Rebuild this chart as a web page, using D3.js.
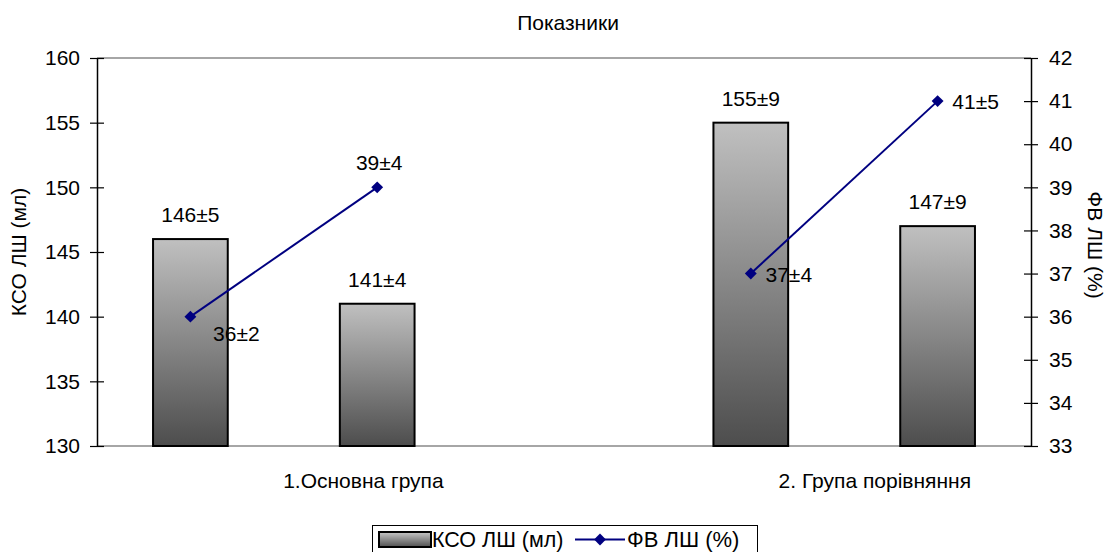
<!DOCTYPE html>
<html><head><meta charset="utf-8">
<script src="https://cdn.jsdelivr.net/npm/d3@7"></script>
<style>body{margin:0;background:#fff}svg{display:block;font-family:"Liberation Sans",Arial,sans-serif}</style>
</head><body><svg id="c" width="1107" height="552"></svg>
<script>
// ---- data ----
const slots = ["g1a","g1b","gap","g2a","g2b"];
const categories = ["1.Основна група","2. Група порівняння"];
const barSlots = ["g1a","g1b","g2a","g2b"];
const ksoValues = [146,141,155,147];
const ksoLabels = ["146±5","141±4","155±9","147±9"];
const fvValues = [36,39,37,41];
const fvLabels = ["36±2","39±4","37±4","41±5"];
const fvSegments = [[0,1],[2,3]];
const leftTicks = [130,135,140,145,150,155,160];
const rightTicks = [33,34,35,36,37,38,39,40,41,42];
const title = "Показники";
const leftTitle = "КСО ЛШ (мл)";
const rightTitle = "ФВ ЛШ (%)";
const legendNames = ["КСО ЛШ (мл)","ФВ ЛШ (%)"];

const FS = 21;
const svg = d3.select("#c");
const L = 97, R = 1031, T = 58, B = 446;
const x = d3.scaleBand().domain(slots).range([L,R]).paddingInner(0.6).paddingOuter(0.3);
const yL = d3.scaleLinear().domain([130,160]).range([B,T]);
const yR = d3.scaleLinear().domain([33,42]).range([B,T]);

const defs = svg.append("defs");
const g = defs.append("linearGradient").attr("id","bg").attr("x1",0).attr("y1",0).attr("x2",0).attr("y2",1);
g.append("stop").attr("offset","0%").attr("stop-color","#c0c0c0");
g.append("stop").attr("offset","100%").attr("stop-color","#4d4d4d");
const gl = defs.append("linearGradient").attr("id","lg").attr("x1",0).attr("y1",0).attr("x2",0).attr("y2",1);
gl.append("stop").attr("offset","0%").attr("stop-color","#c8c8c8");
gl.append("stop").attr("offset","100%").attr("stop-color","#505050");

svg.append("line").attr("x1",L).attr("x2",R).attr("y1",T).attr("y2",T).attr("stroke","#888").attr("stroke-width",1.5);
svg.append("line").attr("x1",L).attr("x2",R).attr("y1",B).attr("y2",B).attr("stroke","#888").attr("stroke-width",1.5);

svg.selectAll("rect.bar").data(ksoValues).join("rect").attr("class","bar")
  .attr("x",(d,i)=>x(barSlots[i])).attr("width",x.bandwidth())
  .attr("y",d=>yL(d)).attr("height",d=>B-yL(d))
  .attr("fill","url(#bg)").attr("stroke","#000").attr("stroke-width",2);

svg.selectAll("text.bl").data(ksoLabels).join("text").attr("class","bl")
  .attr("x",(d,i)=>x(barSlots[i])+x.bandwidth()/2).attr("y",(d,i)=>yL(ksoValues[i])-17)
  .attr("text-anchor","middle").attr("font-size",FS).text(d=>d);

const axL = svg.append("g").attr("transform",`translate(${L},0)`)
  .call(d3.axisLeft(yL).tickValues(leftTicks).tickSize(7).tickSizeOuter(0).tickPadding(10));
axL.selectAll(".tick line").attr("x2",7).attr("x1",-7);
const axR = svg.append("g").attr("transform",`translate(${R},0)`)
  .call(d3.axisRight(yR).tickValues(rightTicks).tickSize(7).tickSizeOuter(0).tickPadding(11));
axR.selectAll(".tick line").attr("x1",-7).attr("x2",7);
[axL,axR].forEach(a=>{
  a.select(".domain").attr("stroke","#000").attr("stroke-width",1.5);
  a.selectAll(".tick line").attr("stroke","#000").attr("stroke-width",1.2);
  a.selectAll(".tick text").attr("font-size",FS).attr("fill","#000").attr("font-family","Liberation Sans, Arial, sans-serif");
});

const cx = i => x(barSlots[i]) + x.bandwidth()/2;
const lineGen = d3.line().x(i=>cx(i)).y(i=>yR(fvValues[i]));
svg.selectAll("path.seg").data(fvSegments).join("path").attr("class","seg")
  .attr("d",lineGen).attr("fill","none").attr("stroke","#000080").attr("stroke-width",2);
const diamond = d3.symbol().type(d3.symbolDiamond2).size(90);
svg.selectAll("path.mk").data(fvValues).join("path").attr("class","mk")
  .attr("d",diamond).attr("transform",(d,i)=>`translate(${cx(i)},${yR(d)})`)
  .attr("fill","#000080");
const fvOff = [[46,24],[2,-17],[38,8],[38,8]];
svg.selectAll("text.fl").data(fvLabels).join("text").attr("class","fl")
  .attr("x",(d,i)=>cx(i)+fvOff[i][0]).attr("y",(d,i)=>yR(fvValues[i])+fvOff[i][1])
  .attr("text-anchor","middle").attr("font-size",FS).text(d=>d);

svg.append("text").attr("x",568).attr("y",30).attr("text-anchor","middle").attr("font-size",FS).text(title);
svg.append("text").attr("transform","translate(26,252) rotate(-90)").attr("text-anchor","middle").attr("font-size",FS).text(leftTitle);
svg.append("text").attr("transform","translate(1088,245) rotate(90)").attr("text-anchor","middle").attr("font-size",FS).text(rightTitle);

const catX = [cx(0)+173, cx(2)+124];
svg.selectAll("text.cat").data(categories).join("text").attr("class","cat")
  .attr("x",(d,i)=>catX[i]).attr("y",488).attr("text-anchor","middle").attr("font-size",FS).text(d=>d);

const lg = svg.append("g");
lg.append("rect").attr("x",372.5).attr("y",525.5).attr("width",385).attr("height",30).attr("fill","#fff").attr("stroke","#000").attr("stroke-width",1);
lg.append("rect").attr("x",379).attr("y",532).attr("width",52).attr("height",15).attr("fill","url(#lg)").attr("stroke","#000").attr("stroke-width",2);
lg.append("text").attr("x",432).attr("y",546.5).attr("font-size",21.5).text(legendNames[0]);
lg.append("line").attr("x1",575).attr("x2",625).attr("y1",539.5).attr("y2",539.5).attr("stroke","#000080").attr("stroke-width",2);
lg.append("path").attr("d",diamond).attr("transform","translate(600,539.5)").attr("fill","#000080");
lg.append("text").attr("x",627).attr("y",546.5).attr("font-size",22).text(legendNames[1]);
</script></body></html>
